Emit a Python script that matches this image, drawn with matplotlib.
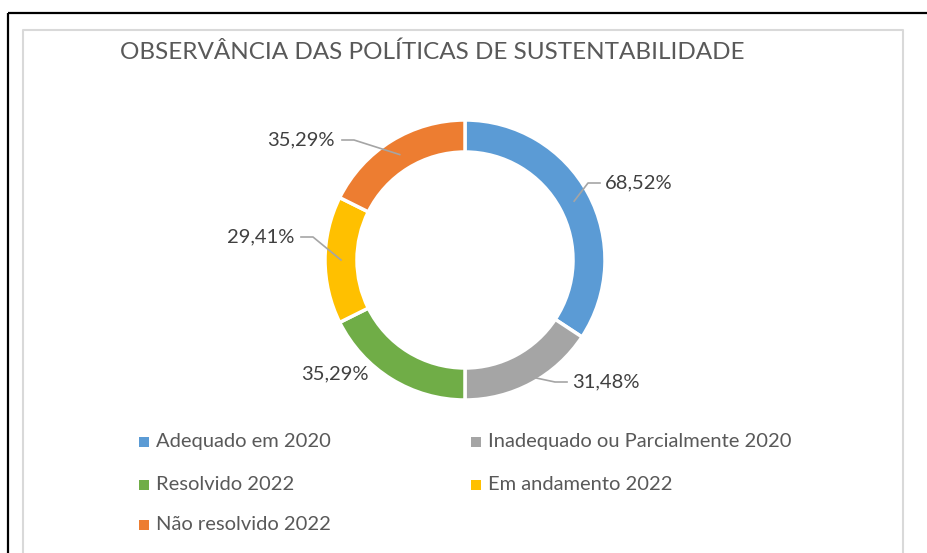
"""Donut chart: observância das políticas de sustentabilidade."""

import numpy as np
import matplotlib
matplotlib.use("Agg")
import matplotlib.pyplot as plt

categories = [
    "Adequado em 2020",
    "Inadequado ou Parcialmente 2020",
    "Resolvido 2022",
    "Em andamento 2022",
    "Não resolvido 2022",
]
values = [68.52, 31.48, 35.29, 29.41, 35.29]
value_labels = ["68,52%", "31,48%", "35,29%", "29,41%", "35,29%"]
colors = ["#5B9BD5", "#A5A5A5", "#70AD47", "#FFC000", "#ED7D31"]

TITLE = "OBSERVÂNCIA DAS POLÍTICAS DE SUSTENTABILIDADE"

W, H = 928, 553
FONT = ["Lato", "DejaVu Sans"]


def py(y):
    # pixel row (from top) -> data y
    return H - y


fig = plt.figure(figsize=(W / 100, H / 100), dpi=100)
ax = fig.add_axes([0, 0, 1, 1])

cx, cy, radius, ring = 465, 260, 140, 32
wedges, _ = ax.pie(
    values,
    colors=colors,
    startangle=90,
    counterclock=False,
    radius=radius,
    center=(cx, py(cy)),
    wedgeprops=dict(width=ring, edgecolor="white", linewidth=2.5),
)
ax.set_xlim(0, W)
ax.set_ylim(0, H)
ax.set_aspect("equal")
ax.axis("off")

# outer black frame (screenshot edge) and grey chart-area border
ax.plot([8, W], [py(13), py(13)], color="black", lw=1.6, solid_capstyle="butt")
ax.plot([8, 8], [py(13), 0], color="black", lw=1.6, solid_capstyle="butt")
ax.plot([23, 23, 903, 903], [0, py(30), py(30), 0], color="#D9D9D9", lw=1.5)

ax.text(432, py(52), TITLE, ha="center", va="center", fontsize=17.5,
        color="#595959", family=FONT)

# data labels: (text anchor x, y in pixels, side) -- None side means no leader
label_pos = [
    (605, 183, "left"),
    (572, 382, "left"),
    (335, 374, None),
    (294, 237, "right"),
    (335, 140, "right"),
]
LAB_FS = 14.5
for w, lab, (tx, ty, side) in zip(wedges, value_labels, label_pos):
    mid = np.deg2rad((w.theta1 + w.theta2) / 2)
    if side is None:
        ax.text(tx, py(ty), lab, ha="center", va="center", fontsize=LAB_FS,
                color="#404040", family=FONT)
        continue
    r = radius - ring / 2 + 8 * (w is wedges[1])
    sx, sy = cx + r * np.cos(mid), py(cy) + r * np.sin(mid)
    if side == "left":
        ex, bx = tx - 5, tx - 17
        ha = "left"
    else:
        ex, bx = tx + 7, tx + 19
        ha = "right"
    ax.plot([sx, bx, ex], [sy, py(ty), py(ty)], color="#A5A5A5", lw=1.2)
    ax.text(tx, py(ty), lab, ha=ha, va="center", fontsize=LAB_FS,
            color="#404040", family=FONT)

# legend, two columns, row-major
col_x = [144, 476]
row_y = [442, 485, 525]
for i, (name, c) in enumerate(zip(categories, colors)):
    x, y = col_x[i % 2], row_y[i // 2]
    ax.scatter([x], [py(y)], marker="s", s=42, color=c, linewidths=0)
    ax.text(x + 12, py(y), name, ha="left", va="center", fontsize=14.5,
            color="#595959", family=FONT)

fig.savefig("out.png", dpi=100)
